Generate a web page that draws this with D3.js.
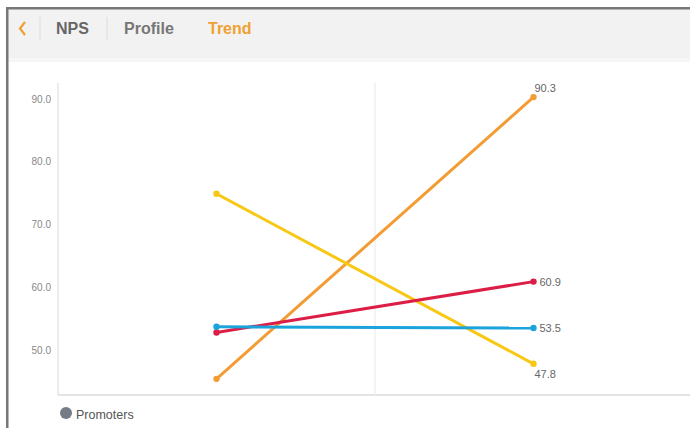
<!DOCTYPE html>
<html><head><meta charset="utf-8">
<script src="https://cdn.jsdelivr.net/npm/d3@7"></script>
<style>
html,body{margin:0;padding:0;background:#fff;}
svg{display:block;font-family:Arial,"Liberation Sans",sans-serif;}
</style></head>
<body>
<svg id="c" width="690" height="428"></svg>
<script>
const tabs = ["NPS","Profile","Trend"];
const periods = ["P1","P2"];
const seriesNames = ["Orange","Yellow","Red","Blue"];
const seriesColors = ["#f39c34","#f7c815","#dc1d45","#1ba4dc"];
const orangeValues = [45.4, 90.3];
const yellowValues = [74.9, 47.8];
const redValues = [52.8, 60.9];
const blueValues = [53.7, 53.5];
const yTicks = [50, 60, 70, 80, 90];
const legendLabel = "Promoters";

(function(){
const svg = d3.select("#c");
// frame / header
svg.append("rect").attr("x",7).attr("y",9).attr("width",683).attr("height",52).attr("fill","#f2f2f2");
svg.append("rect").attr("x",7).attr("y",58).attr("width",683).attr("height",4).attr("fill","#f6f6f6");
svg.append("rect").attr("x",6).attr("y",7).attr("width",684).attr("height",2.5).attr("fill","#777");
svg.append("rect").attr("x",6).attr("y",7).attr("width",2.5).attr("height",421).attr("fill","#777");

// header tabs
svg.append("path").attr("d","M25,22 L20,28.5 L25,35").attr("fill","none").attr("stroke","#f0a030").attr("stroke-width",2.2);
svg.append("line").attr("x1",40).attr("x2",40).attr("y1",17).attr("y2",40).attr("stroke","#dcdcdc");
svg.append("line").attr("x1",107).attr("x2",107).attr("y1",17).attr("y2",40).attr("stroke","#dcdcdc");
const tabX = [56,124,208];
const tabCol = ["#666","#777","#f0a030"];
tabs.forEach((t,i)=>{
  svg.append("text").attr("x",tabX[i]).attr("y",34).attr("font-size",16).attr("font-weight","bold")
    .attr("fill",tabCol[i]).text(t);
});

// scales
const pl = 58, pr = 692, pt = 83, pb = 395;
const x = d3.scaleBand().domain(periods).range([pl,pr]);
const y = d3.scaleLinear().domain([42.83, 92.55]).range([pb, pt]);

// axes lines
svg.append("line").attr("x1",pl).attr("x2",pl).attr("y1",pt).attr("y2",pb).attr("stroke","#e6e6e6").attr("stroke-width",1.5);
svg.append("line").attr("x1",pl).attr("x2",690).attr("y1",pb).attr("y2",pb).attr("stroke","#e3e3e3").attr("stroke-width",2);
svg.append("line").attr("x1",x("P2")).attr("x2",x("P2")).attr("y1",pt).attr("y2",pb).attr("stroke","#f0f0f0").attr("stroke-width",1.5);

const yAxis = d3.axisLeft(y).tickValues(yTicks).tickFormat(d3.format(".1f")).tickSize(0).tickPadding(0);
const ga = svg.append("g").attr("transform",`translate(51,0)`).call(yAxis);
ga.select(".domain").remove();
ga.selectAll("text").attr("fill","#888").attr("font-size",10).attr("font-family","Arial,'Liberation Sans',sans-serif");

const all = [orangeValues,yellowValues,redValues,blueValues];
const cx = p => x(p) + x.bandwidth()/2;
const line = d3.line().x((d,i)=>cx(periods[i])).y(d=>y(d));
all.forEach((vals,k)=>{
  svg.append("path").datum(vals).attr("d",line).attr("fill","none")
    .attr("stroke",seriesColors[k]).attr("stroke-width",3);
  svg.selectAll(null).data(vals).enter().append("circle")
    .attr("cx",(d,i)=>cx(periods[i])).attr("cy",d=>y(d)).attr("r",3.2).attr("fill",seriesColors[k]);
});

// labels on last point
const labelPos = [[1,-5],[1,14],[6,4],[6,4]];
all.forEach((vals,k)=>{
  const v = vals[1];
  const [dx,dy] = labelPos[k];
  svg.append("text").attr("x",cx("P2")+dx).attr("y",y(v)+dy).attr("font-size",11)
    .attr("fill","#666").text(d3.format(".1f")(v));
});

// legend
svg.append("circle").attr("cx",66).attr("cy",413).attr("r",6).attr("fill","#757c85");
svg.append("text").attr("x",76).attr("y",419).attr("font-size",12.5).attr("fill","#555").text(legendLabel);
})();
</script>
</body></html>
